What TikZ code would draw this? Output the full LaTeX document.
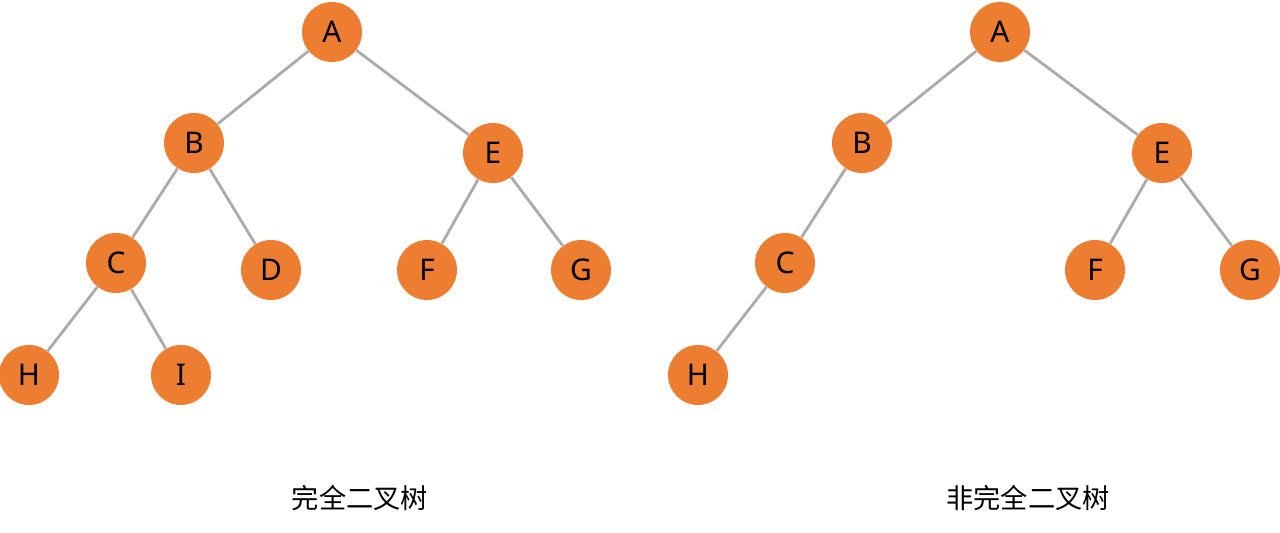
\documentclass[tikz,border=0pt]{standalone}
\usepackage{fontspec}
\setmainfont{Noto Sans}
\newfontfamily\cjk{Noto Sans CJK SC}
\definecolor{nodeorange}{HTML}{ED7D31}
\definecolor{edgegray}{HTML}{ABABAB}

\begin{document}
\begin{tikzpicture}[x=0.02cm,y=-0.02cm,
 v/.style={circle,fill=nodeorange,draw=none,inner sep=0pt,minimum size=1.2cm,
 font=\fontsize{17}{17}\selectfont},
 lbl/.style={font=\cjk\fontsize{15.5}{18}\selectfont},
 edge/.style={draw=edgegray,line width=1.6pt}]
\useasboundingbox (0,0) rectangle (1280,533);
% complete tree
\node[v] (A) at (332,32) {A};
\node[v] (B) at (194,143) {B};
\node[v] (E) at (493,153) {E};
\node[v] (C) at (116,263) {C};
\node[v] (D) at (271,270) {D};
\node[v] (F) at (427,270) {F};
\node[v] (G) at (581,270) {G};
\node[v] (H) at (29,375) {H};
\node[v] (I) at (181,375) {I};
% non-complete tree
\node[v] (A2) at (1000,32) {A};
\node[v] (B2) at (862,143) {B};
\node[v] (E2) at (1162,153) {E};
\node[v] (C2) at (785,263) {C};
\node[v] (F2) at (1095,270) {F};
\node[v] (G2) at (1250,270) {G};
\node[v] (H2) at (698,375) {H};
\foreach \u/\v in {A/B,A/E,B/C,B/D,E/F,E/G,C/H,C/I,
A2/B2,A2/E2,B2/C2,E2/F2,E2/G2,C2/H2}{\draw[edge] (\u)--(\v);}
\node[lbl] (t1) at (360,498) {完全二叉树};
\node[lbl] (t2) at (1028,498) {非完全二叉树};
\end{tikzpicture}
\end{document}
